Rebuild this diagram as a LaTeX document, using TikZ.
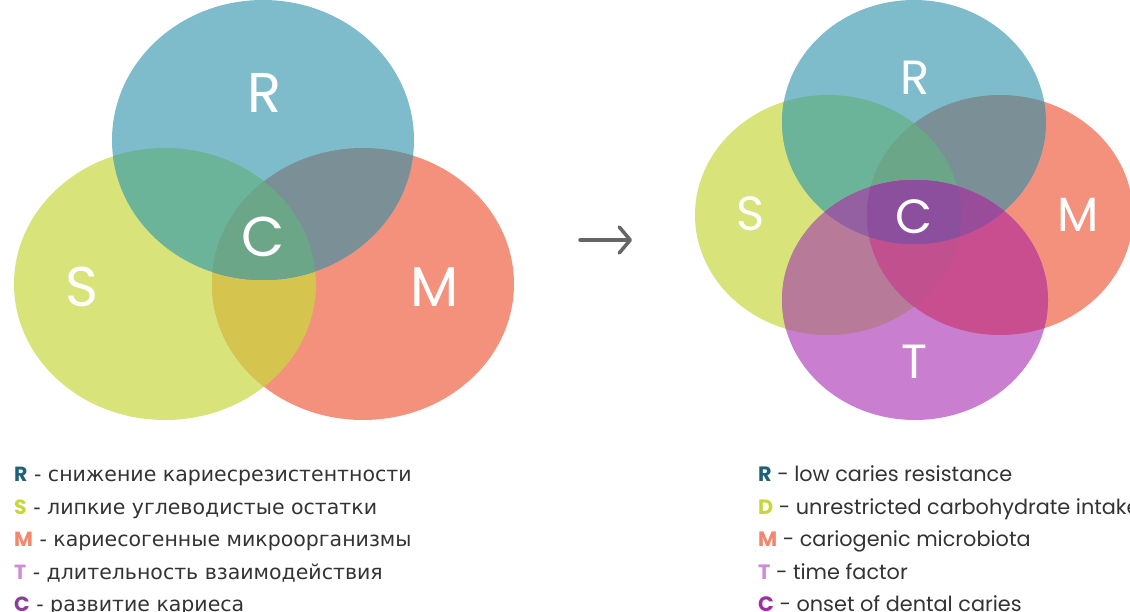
\documentclass[tikz,border=0pt]{standalone}
\usepackage{fontspec}
\setmainfont{DejaVu Sans}
\newfontfamily\pop{Poppins}
\newfontfamily\ruf{DejaVu Sans}
\newcommand\lk{\pop\bfseries}
\usetikzlibrary{arrows.meta}
% base colours
\definecolor{cR}{HTML}{7FBCCB}
\definecolor{cS}{HTML}{D8E37A}
\definecolor{cM}{HTML}{F4917D}
\definecolor{cT}{HTML}{C97ECF}
% overlaps
\definecolor{cRS}{HTML}{6BB399}
\definecolor{cRM}{HTML}{7A8F96}
\definecolor{cSM}{HTML}{D5C44E}
\definecolor{cRSM}{HTML}{6BA688}
\definecolor{cST}{HTML}{B77A98}
\definecolor{cMT}{HTML}{C84E90}
\definecolor{cSMT}{HTML}{C0508E}
\definecolor{cRT}{HTML}{9A5CA8}
\definecolor{cRST}{HTML}{9460A2}
\definecolor{cRMT}{HTML}{984C9A}
\definecolor{cRSMT}{HTML}{8C4F9E}
% legend colours
\definecolor{lR}{HTML}{1F6277}
\definecolor{lS}{HTML}{C9D639}
\definecolor{lM}{HTML}{F4866E}
\definecolor{lT}{HTML}{D18AD6}
\definecolor{lCa}{HTML}{8A3F98}
\definecolor{lCb}{HTML}{A22BA6}
\definecolor{txt}{HTML}{333333}
\definecolor{arr}{HTML}{666666}
% left ellipses
\def\LR{(263,140) ellipse [x radius=151pt, y radius=140pt]}
\def\LS{(165,284) ellipse [x radius=151pt, y radius=136pt]}
\def\LM{(363,284) ellipse [x radius=151pt, y radius=136pt]}
% right ellipses
\def\RR{(914,122) ellipse [x radius=132pt, y radius=122pt]}
\def\RS{(828,215) ellipse [x radius=133pt, y radius=120pt]}
\def\RM{(1000,215) ellipse [x radius=133pt, y radius=120pt]}
\def\RT{(915,300) ellipse [x radius=133pt, y radius=120pt]}
\begin{document}
\begin{tikzpicture}[x=1pt,y=-1pt,
  bigletter/.style={text=white,font=\pop\fontsize{56}{60}\selectfont,inner sep=0pt},
  bigletterb/.style={text=white,font=\pop\fontsize{48}{52}\selectfont,inner sep=0pt},
  legru/.style={anchor=base west,inner sep=0pt,text=txt,font=\ruf\fontsize{20.5}{24}\selectfont},
  legen/.style={anchor=base west,inner sep=0pt,text=txt,font=\pop\fontsize{20.8}{24}\selectfont}]
\useasboundingbox (0,0) rectangle (1130,612);
\clip (0,0) rectangle (1130,612);
% ---------------- left diagram ----------------
\fill[cS] \LS;
\fill[cM] \LM;
\begin{scope}\clip \LS; \fill[cSM] \LM; \end{scope}
\fill[cR] \LR;
\begin{scope}\clip \LS; \fill[cRS] \LR; \end{scope}
\begin{scope}\clip \LM; \fill[cRM] \LR; \end{scope}
\begin{scope}\clip \LS; \clip \LM; \fill[cRSM] \LR; \end{scope}
\node[bigletter] (lr) at (265,93) {R};
\node[bigletter] (lc) at (263,237) {C};
\node[bigletter] (ls) at (82,287) {S};
\node[bigletter] (lm) at (435,287) {M};
% ---------------- right diagram ----------------
\fill[cS] \RS;
\fill[cM] \RM;
\begin{scope}\clip \RS; \fill[cSM] \RM; \end{scope}
\fill[cR] \RR;
\begin{scope}\clip \RS; \fill[cRS] \RR; \end{scope}
\begin{scope}\clip \RM; \fill[cRM] \RR; \end{scope}
\begin{scope}\clip \RS; \clip \RM; \fill[cRSM] \RR; \end{scope}
\fill[cT] \RT;
\begin{scope}\clip \RS; \fill[cST] \RT; \end{scope}
\begin{scope}\clip \RM; \fill[cMT] \RT; \end{scope}
\begin{scope}\clip \RS; \clip \RM; \fill[cSMT] \RT; \end{scope}
\begin{scope}\clip \RR; \fill[cRT] \RT; \end{scope}
\begin{scope}\clip \RR; \clip \RS; \fill[cRST] \RT; \end{scope}
\begin{scope}\clip \RR; \clip \RM; \fill[cRMT] \RT; \end{scope}
\begin{scope}\clip \RR; \clip \RS; \clip \RM; \fill[cRSMT] \RT; \end{scope}
\node[bigletterb] (rr) at (915,78) {R};
\node[bigletterb] (rs) at (751,214) {S};
\node[bigletterb] (rc) at (914,217) {C};
\node[bigletterb] (rm) at (1078,215) {M};
\node[bigletterb] (rt) at (914,362) {T};
% ---------------- arrow ----------------
\coordinate (a1) at (580,240);
\coordinate (a2) at (632,240);
\draw[arr,line width=3.5pt,line cap=round,
  -{Straight Barb[length=11pt,width=26pt,line cap=round,line join=round]}] (a1) -- (a2);
% ---------------- legends ----------------
\node[legru] (l1) at (14,481) {{\lk\color{lR}R} - снижение кариесрезистентности};
\node[legru] (l2) at (14,514) {{\lk\color{lS}S} - липкие углеводистые остатки};
\node[legru] (l3) at (14,546) {{\lk\color{lM}M} - кариесогенные микроорганизмы};
\node[legru] (l4) at (14,579) {{\lk\color{lT}T} - длительность взаимодействия};
\node[legru] (l5) at (14,611) {{\lk\color{lCa}C} - развитие кариеса};
\node[legen] (e1) at (758,481) {{\lk\color{lR}R} - low caries resistance};
\node[legen] (e2) at (758,514) {{\lk\color{lS}D} - unrestricted carbohydrate intake};
\node[legen] (e3) at (758,546) {{\lk\color{lM}M} - cariogenic microbiota};
\node[legen] (e4) at (758,579) {{\lk\color{lT}T} - time factor};
\node[legen] (e5) at (758,611) {{\lk\color{lCb}C} - onset of dental caries};
\end{tikzpicture}
\end{document}
